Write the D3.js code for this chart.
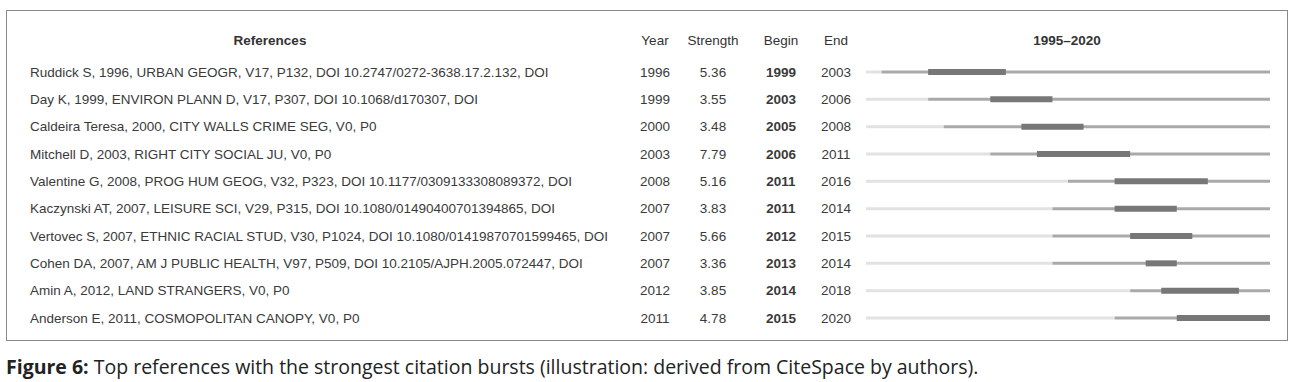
<!DOCTYPE html>
<html lang="en">
<head>
    <meta charset="UTF-8">
    <title>Top references with the strongest citation bursts</title>
    <script src="https://d3js.org/d3.v7.min.js"></script>
    <style>
        body { margin: 0; background: #fff; }
    </style>
</head>
<body>
    <script>
        // DATA
        var references = [
            "Ruddick S, 1996, URBAN GEOGR, V17, P132, DOI 10.2747/0272-3638.17.2.132, DOI",
            "Day K, 1999, ENVIRON PLANN D, V17, P307, DOI 10.1068/d170307, DOI",
            "Caldeira Teresa, 2000, CITY WALLS CRIME SEG, V0, P0",
            "Mitchell D, 2003, RIGHT CITY SOCIAL JU, V0, P0",
            "Valentine G, 2008, PROG HUM GEOG, V32, P323, DOI 10.1177/0309133308089372, DOI",
            "Kaczynski AT, 2007, LEISURE SCI, V29, P315, DOI 10.1080/01490400701394865, DOI",
            "Vertovec S, 2007, ETHNIC RACIAL STUD, V30, P1024, DOI 10.1080/01419870701599465, DOI",
            "Cohen DA, 2007, AM J PUBLIC HEALTH, V97, P509, DOI 10.2105/AJPH.2005.072447, DOI",
            "Amin A, 2012, LAND STRANGERS, V0, P0",
            "Anderson E, 2011, COSMOPOLITAN CANOPY, V0, P0"
        ];
        var years = [1996, 1999, 2000, 2003, 2008, 2007, 2007, 2007, 2012, 2011];
        var strengths = [5.36, 3.55, 3.48, 7.79, 5.16, 3.83, 5.66, 3.36, 3.85, 4.78];
        var begins = [1999, 2003, 2005, 2006, 2011, 2011, 2012, 2013, 2014, 2015];
        var ends = [2003, 2006, 2008, 2011, 2016, 2014, 2015, 2014, 2018, 2020];
        var headers = ["References", "Year", "Strength", "Begin", "End", "1995\u20132020"];
        var span = [1995, 2020];
        var caption = ["Figure 6:", " Top references with the strongest citation bursts (illustration: derived from CiteSpace by authors)."];

        var width = 1296, height = 382;

        var svg = d3.select("body")
            .append("svg")
            .attr("width", width)
            .attr("height", height);

        // frame
        svg.append("rect")
            .attr("x", 6.5).attr("y", 10.5)
            .attr("width", 1281).attr("height", 330)
            .attr("fill", "#fff")
            .attr("stroke", "#8a8a8a")
            .attr("stroke-width", 1);

        var rows = d3.range(references.length);

        // scales
        var y = d3.scalePoint().domain(rows).range([72, 318]);
        var x = d3.scaleLinear().domain([span[0], span[1] + 1]).range([866, 1270]);

        // column centres
        var cols = { ref: 270, year: 655, strength: 713, begin: 781, end: 836, span: 1067 };

        var font = "'Liberation Sans', Arial, sans-serif";
        var fs = "13.5px";

        // header row
        var headerX = [cols.ref, cols.year, cols.strength, cols.begin, cols.end, cols.span];
        svg.append("g").selectAll("text")
            .data(headers)
            .join("text")
            .attr("x", function(d, i) { return headerX[i]; })
            .attr("y", 40)
            .attr("dy", "0.35em")
            .attr("text-anchor", "middle")
            .attr("font-family", font)
            .attr("font-size", fs)
            .attr("font-weight", function(d, i) { return (i === 0 || i === 5) ? "bold" : "normal"; })
            .attr("fill", "#333")
            .text(function(d) { return d; });

        var rowG = svg.append("g").selectAll("g")
            .data(rows)
            .join("g")
            .attr("transform", function(i) { return "translate(0," + y(i) + ")"; });

        function cell(sel, xpos, anchor, weight, fn) {
            sel.append("text")
                .attr("x", xpos)
                .attr("dy", "0.35em")
                .attr("text-anchor", anchor)
                .attr("font-family", font)
                .attr("font-size", fs)
                .attr("font-weight", weight)
                .attr("fill", "#3a3a3a")
                .text(fn);
        }

        cell(rowG, 30, "start", "normal", function(i) { return references[i]; });
        cell(rowG, cols.year, "middle", "normal", function(i) { return years[i]; });
        cell(rowG, cols.strength, "middle", "normal", function(i) { return strengths[i].toFixed(2); });
        cell(rowG, cols.begin, "middle", "bold", function(i) { return begins[i]; });
        cell(rowG, cols.end, "middle", "normal", function(i) { return ends[i]; });

        // timeline: before publication (very light), after publication (grey), burst (dark, thick)
        rowG.append("line")
            .attr("x1", x(span[0])).attr("x2", function(i) { return x(years[i]); })
            .attr("stroke", "#e2e2e2").attr("stroke-width", 3);

        rowG.append("line")
            .attr("x1", function(i) { return x(years[i]); }).attr("x2", x(span[1] + 1))
            .attr("stroke", "#a9a9a9").attr("stroke-width", 3);

        rowG.append("line")
            .attr("x1", function(i) { return x(begins[i]); })
            .attr("x2", function(i) { return x(ends[i] + 1); })
            .attr("stroke", "#777").attr("stroke-width", 6);

        // caption
        var cap = svg.append("text")
            .attr("x", 6)
            .attr("y", 367)
            .attr("dy", "0.35em")
            .attr("font-family", "'Open Sans', sans-serif")
            .attr("font-size", "19.5px")
            .attr("fill", "#222");
        cap.append("tspan").attr("font-weight", "bold").text(caption[0]);
        cap.append("tspan").text(caption[1]);
    </script>
</body>
</html>
